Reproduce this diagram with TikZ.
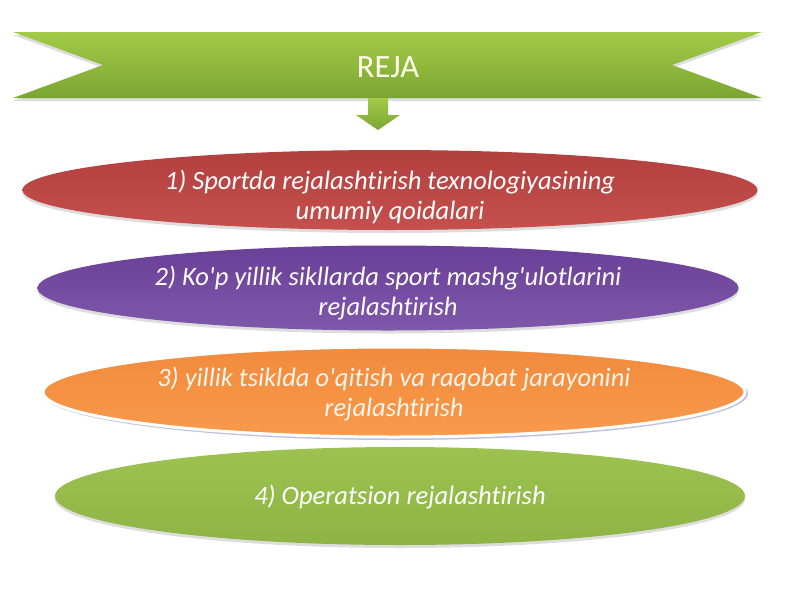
\documentclass[tikz,border=0pt]{standalone}
\usepackage{fontspec}
\setmainfont{Carlito}[Ligatures={TeXOff,NoCommon}]
\usetikzlibrary{shapes.geometric,shadows}
\definecolor{bannerTop}{HTML}{A3CB48}
\definecolor{bannerBot}{HTML}{7BA532}
\definecolor{redA}{HTML}{C5504D}
\definecolor{redB}{HTML}{B2403E}
\definecolor{purA}{HTML}{7F58AA}
\definecolor{purB}{HTML}{6A3F98}
\definecolor{orA}{HTML}{F89A4C}
\definecolor{orB}{HTML}{F28A3C}
\definecolor{grA}{HTML}{9DC251}
\definecolor{grB}{HTML}{8DB444}
\begin{document}
\begin{tikzpicture}[x=1pt,y=-1pt,
  oval/.style={ellipse, inner sep=0pt, draw=none},
  softshadow/.style={drop shadow={shadow xshift=0pt, shadow yshift=-3pt, opacity=0.22, fill=black!60}},
  itemtext/.style={text=white, align=center, font=\fontsize{26.5}{30}\selectfont\itshape},
  arrowfill/.style={top color=bannerTop, bottom color=bannerBot}]
\useasboundingbox[fill=white] (0,0) rectangle (800,600);
% banner
\path[top color=bannerTop, bottom color=bannerBot, softshadow]
  (13,32) -- (762,32) -- (672,65) -- (762,98) -- (13,98) -- (103,65) -- cycle;
\node[text=white!92!yellow, font=\fontsize{32.5}{38}\selectfont] (reja) at (388,67) {REJA};
% ellipses
\node[oval, minimum width=735pt, minimum height=80pt, top color=redB, bottom color=redA, softshadow] (e1) at (390,190) {};
\node[itemtext] (t1) at ([yshift=-7pt]e1) {1) Sportda rejalashtirish texnologiyasining\\umumiy qoidalari};
\node[oval, minimum width=701pt, minimum height=85pt, top color=purB, bottom color=purA, softshadow] (e2) at (388,288) {};
\node[itemtext] (t2) at ([yshift=-5pt]e2) {2) Ko'p yillik sikllarda sport mashg'ulotlarini\\rejalashtirish};
\node[oval, minimum width=705pt, minimum height=93pt, fill=blue!45!black!25, xshift=1.5pt, yshift=-1.5pt] (e3s) at (394,392) {};
\node[oval, minimum width=702pt, minimum height=90pt, top color=orB, bottom color=orA, draw=white, line width=3pt] (e3) at (394,392) {};
\node[itemtext, text=white!92!orange] (t3) at ([yshift=-2pt]e3) {3) yillik tsiklda o'qitish va raqobat jarayonini\\rejalashtirish};
\node[oval, minimum width=690pt, minimum height=98pt, top color=grA, bottom color=grB, softshadow] (e4) at (400,496) {};
\node[itemtext] (t4) at ([yshift=-1pt]e4) {4) Operatsion rejalashtirish};
% block arrow from banner to first item
\path[arrowfill]
  (368,98) -- (388,98) -- (388,115) -- (400,115) -- (378,130) -- (356,115) -- (368,115) -- cycle;
\end{tikzpicture}
\end{document}
